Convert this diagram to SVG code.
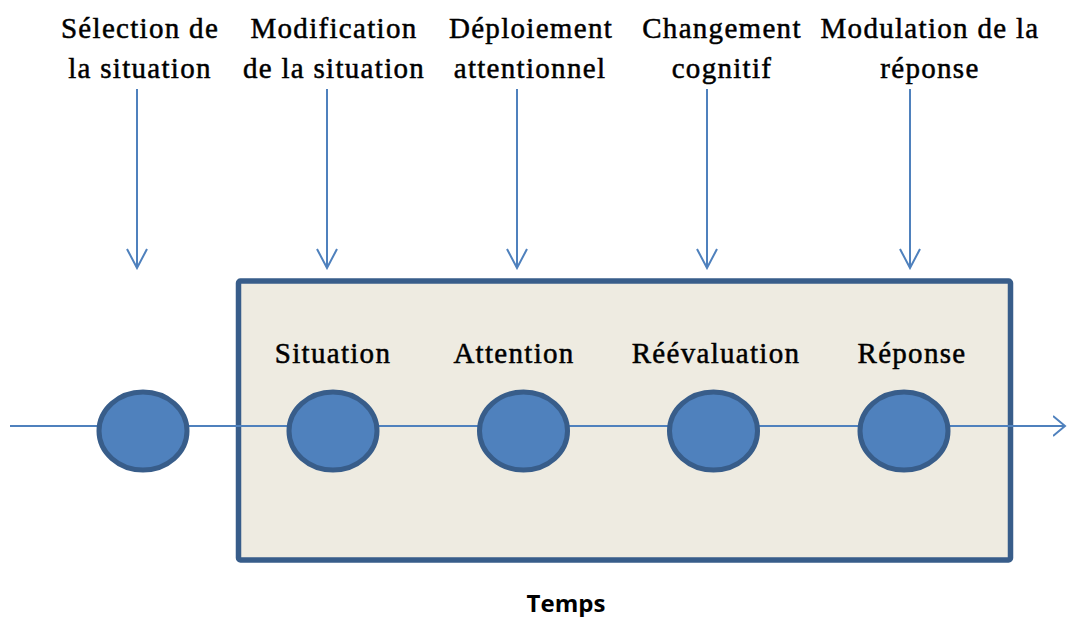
<svg xmlns="http://www.w3.org/2000/svg" width="1067" height="617" viewBox="0 0 1067 617">
<style>
.lbl{font-family:'Liberation Serif','DejaVu Serif',serif;font-size:29px;letter-spacing:1.3px;fill:#000;stroke:#000;stroke-width:0.5;text-anchor:middle}
.conn{stroke:#4F81BD;stroke-width:2;fill:none}
.node{fill:#4F81BD;stroke:#385D8A;stroke-width:5}
.temps{font-family:'Open Sans','Liberation Sans',sans-serif;font-weight:bold;font-size:24px;fill:#000;text-anchor:middle}
</style>
<defs>
<marker id="open" markerWidth="14" markerHeight="24" refX="12" refY="12" orient="auto" markerUnits="userSpaceOnUse">
<path d="M0,2 L12,12 L0,22" fill="none" stroke="#4F81BD" stroke-width="2"/>
</marker>
<marker id="openv" markerWidth="22" markerHeight="24" refX="20" refY="11" orient="auto" markerUnits="userSpaceOnUse">
<path d="M1,1 L20,11 L1,21" fill="none" stroke="#4F81BD" stroke-width="2"/>
</marker>
</defs>
<rect fill="#fff" x="0" y="0" width="1067" height="617"/>
<g id="frame">
<rect x="238.5" y="281" width="772" height="279" rx="2" fill="#EEEBE1" stroke="#385D8A" stroke-width="5.5"/>
</g>
<g id="labels-top">
<text class="lbl" x="140" y="38">Sélection de</text>
<text class="lbl" x="140" y="78">la situation</text>
<text class="lbl" x="334" y="38">Modification</text>
<text class="lbl" x="334" y="78">de la situation</text>
<text class="lbl" x="531" y="38">Déploiement</text>
<text class="lbl" x="530" y="78">attentionnel</text>
<text class="lbl" x="722" y="38">Changement</text>
<text class="lbl" x="722" y="78">cognitif</text>
<text class="lbl" x="930" y="38">Modulation de la</text>
<text class="lbl" x="930" y="78">réponse</text>
</g>
<g id="connectors">
<line class="conn" x1="10" y1="426" x2="1065" y2="426" marker-end="url(#open)"/>
<line class="conn" x1="137" y1="89" x2="137" y2="268" marker-end="url(#openv)"/>
<line class="conn" x1="327" y1="89" x2="327" y2="268" marker-end="url(#openv)"/>
<line class="conn" x1="517" y1="89" x2="517" y2="268" marker-end="url(#openv)"/>
<line class="conn" x1="707" y1="89" x2="707" y2="268" marker-end="url(#openv)"/>
<line class="conn" x1="910" y1="89" x2="910" y2="268" marker-end="url(#openv)"/>
</g>
<g id="node-0"><ellipse class="node" cx="143" cy="431" rx="44" ry="39"/></g>
<g id="node-situation"><text class="lbl" x="333" y="363">Situation</text><ellipse class="node" cx="333" cy="431" rx="44" ry="39"/></g>
<g id="node-attention"><text class="lbl" x="514" y="363">Attention</text><ellipse class="node" cx="523.5" cy="431" rx="44" ry="39"/></g>
<g id="node-reevaluation"><text class="lbl" x="716" y="363">Réévaluation</text><ellipse class="node" cx="713.5" cy="431" rx="44" ry="39"/></g>
<g id="node-reponse"><text class="lbl" x="912" y="363">Réponse</text><ellipse class="node" cx="904" cy="431" rx="44" ry="39"/></g>
<g id="temps"><text class="temps" x="566" y="612">Temps</text></g>
</svg>
